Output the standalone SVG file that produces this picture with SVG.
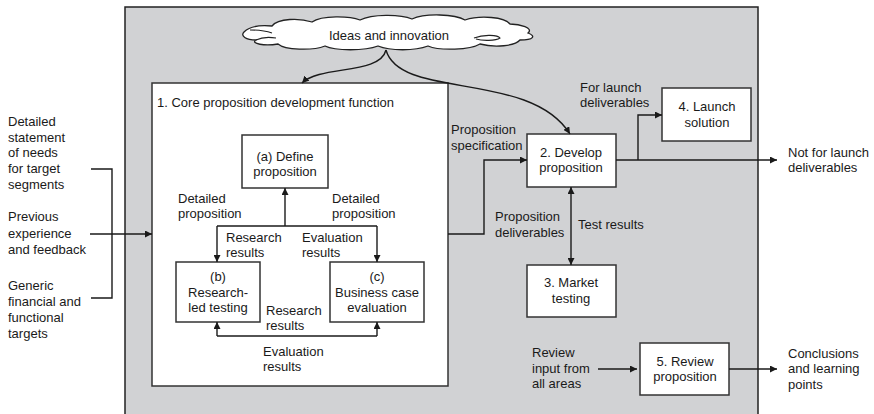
<svg xmlns="http://www.w3.org/2000/svg" width="874" height="414" viewBox="0 0 874 414">
<defs>
<marker id="ah" viewBox="0 0 10 10" refX="10" refY="5" markerWidth="7" markerHeight="7" markerUnits="userSpaceOnUse" orient="auto-start-reverse">
<path d="M0,0 L10,5 L0,10 Z" fill="#1a1a1a"/>
</marker>
<style>
text{font-family:"Liberation Sans",Arial,sans-serif;font-size:13px;fill:#1a1a1a}
.m{text-anchor:middle}
.box{fill:#fff;stroke:#333;stroke-width:1.5}
.ln{fill:none;stroke:#1a1a1a;stroke-width:1.4}
.arr{fill:none;stroke:#1a1a1a;stroke-width:1.4;marker-end:url(#ah)}
</style>
</defs>
<rect width="874" height="414" fill="#fff"/>
<rect id="frame" x="125" y="7" width="633" height="420" fill="#d1d2d4" stroke="#222" stroke-width="1.5"/>

<g id="cloud">
<path d="M244,32 C250,26 262,25 272,26 C278,18 300,18 312,22 C322,15 350,16 360,20 C372,14 400,14 412,19 C425,13 455,14 465,20 C480,15 505,17 510,24 C520,24 534,28 528,33 C536,36 534,40 520,40 C515,46 495,48 480,44 C470,50 440,51 428,46 C415,51 390,51 378,46 C365,51 335,51 325,46 C312,51 285,50 278,44 C265,46 250,44 256,40 C246,40 240,36 244,32 Z" fill="#fff" stroke="#222" stroke-width="1.3"/>
<path d="M256,40 C262,37 270,37 276,38 M250,30 C258,30 266,31 272,33 M474,38 C484,34 498,35 500,38 C496,41 482,41 476,39" fill="none" stroke="#222" stroke-width="1.1"/>
<text x="389" y="40" class="m">Ideas and innovation</text>
</g>

<g id="core">
<rect x="152" y="83" width="296" height="303" class="box"/>
<text x="157" y="107">1. Core proposition development function</text>
</g>

<g id="a">
<rect x="242" y="135" width="86" height="53" class="box"/>
<text x="285" y="161" class="m">(a) Define</text>
<text x="285" y="176" class="m">proposition</text>
</g>
<g id="b">
<rect x="176" y="262" width="84" height="60" class="box"/>
<text x="218" y="281" class="m">(b)</text>
<text x="218" y="297" class="m">Research-</text>
<text x="218" y="312" class="m">led testing</text>
</g>
<g id="c">
<rect x="330" y="262" width="94" height="60" class="box"/>
<text x="377" y="281" class="m">(c)</text>
<text x="377" y="297" class="m">Business case</text>
<text x="377" y="312" class="m">evaluation</text>
</g>
<g id="n2">
<rect x="527" y="134" width="89" height="53" class="box"/>
<text x="571" y="157" class="m">2. Develop</text>
<text x="571" y="172" class="m">proposition</text>
</g>
<g id="n4">
<rect x="662" y="88" width="89" height="53" class="box"/>
<text x="707" y="111" class="m">4. Launch</text>
<text x="707" y="127" class="m">solution</text>
</g>
<g id="n3">
<rect x="527" y="265" width="89" height="52" class="box"/>
<text x="571" y="287" class="m">3. Market</text>
<text x="571" y="303" class="m">testing</text>
</g>
<g id="n5">
<rect x="640" y="343" width="89" height="52" class="box"/>
<text x="685" y="366" class="m">5. Review</text>
<text x="685" y="381" class="m">proposition</text>
</g>

<g id="connectors">
<path class="arr" d="M386,50 C380,75 320,65 302,83"/>
<path class="arr" d="M386,50 C400,100 530,70 570,134"/>
<path class="ln" d="M91,169 H112 V298 H91"/>
<path class="arr" d="M90,234 H152"/>
<path class="arr" d="M285,226 V188"/>
<path class="ln" d="M217,226 H377"/>
<path class="arr" d="M217,226 V262"/>
<path class="arr" d="M377,226 V262"/>
<path class="ln" d="M217,336 H377"/>
<path class="arr" d="M217,336 V322"/>
<path class="arr" d="M377,336 V322"/>
<path class="arr" d="M448,234 H484 V160 H527"/>
<path class="arr" d="M616,160 H777"/>
<path class="arr" d="M638,160 V115 H662"/>
<path class="arr" d="M571,187 V265" marker-start="url(#ah)"/>
<path class="arr" d="M598,369 H637"/>
<path class="arr" d="M729,369 H777"/>
</g>

<g id="labels">
<text x="8" y="126">Detailed</text>
<text x="8" y="142">statement</text>
<text x="8" y="157">of needs</text>
<text x="8" y="173">for target</text>
<text x="8" y="189">segments</text>
<text x="8" y="221">Previous</text>
<text x="8" y="238">experience</text>
<text x="8" y="254">and feedback</text>
<text x="8" y="290">Generic</text>
<text x="8" y="306">financial and</text>
<text x="8" y="322">functional</text>
<text x="8" y="338">targets</text>
<text x="178" y="203">Detailed</text>
<text x="178" y="218">proposition</text>
<text x="332" y="203">Detailed</text>
<text x="332" y="218">proposition</text>
<text x="226" y="242">Research</text>
<text x="226" y="257">results</text>
<text x="302" y="242">Evaluation</text>
<text x="302" y="257">results</text>
<text x="266" y="315">Research</text>
<text x="266" y="330">results</text>
<text x="263" y="356">Evaluation</text>
<text x="263" y="371">results</text>
<text x="451" y="134">Proposition</text>
<text x="451" y="150">specification</text>
<text x="580" y="92">For launch</text>
<text x="580" y="107">deliverables</text>
<text x="788" y="157">Not for launch</text>
<text x="788" y="172">deliverables</text>
<text x="495" y="221">Proposition</text>
<text x="495" y="237">deliverables</text>
<text x="578" y="229">Test results</text>
<text x="532" y="357">Review</text>
<text x="532" y="373">input from</text>
<text x="532" y="388">all areas</text>
<text x="788" y="358">Conclusions</text>
<text x="788" y="373">and learning</text>
<text x="788" y="389">points</text>
</g>
</svg>
